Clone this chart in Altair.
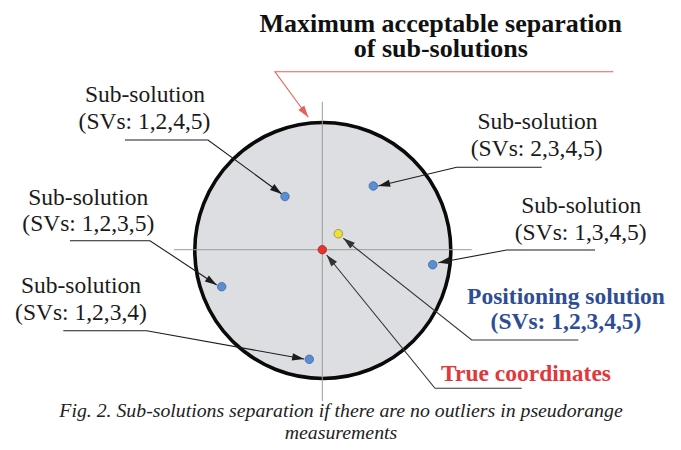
import math
import altair as alt
import pandas as pd

# ---------------- data (diagram units, origin = true coordinates, y up) ----------------
sol_names = ["True coordinates", "Positioning solution",
             "SVs 1,2,4,5", "SVs 2,3,4,5", "SVs 1,3,4,5", "SVs 1,2,3,5", "SVs 1,2,3,4"]
sol_kind = ["true", "full", "sub", "sub", "sub", "sub", "sub"]
sol_x = [0.0, 16.0, -37.3, 51.0, 110.4, -100.6, -13.0]
sol_y = [0.0, 16.0, 53.2, 63.7, -15.0, -37.0, -109.6]

limit_center_x = [0.5]
limit_center_y = [-0.8]
limit_radius = [128.0]

cross_x1 = [-148.3, 0.0]
cross_x2 = [149.4, 0.0]
cross_y1 = [0.0, 148.0]
cross_y2 = [0.0, -151.3]

leader_names = ["1245", "2345", "1345", "1235", "1234", "full", "true", "limit"]
leader_kind = ["black", "black", "black", "black", "black", "grey", "grey", "red"]
leader_x = [[-197.3, -114.3, -40.6], [219.4, 134.4, 56.0], [272.7, 184.4, 116.0],
            [-252.3, -172.3, -105.6], [-259.0, -175.6, -18.3], [256.0, 149.4, 21.0],
            [199.4, 112.7, 4.4], [291.0, -47.3, -14.0]]
leader_y = [[109.7, 109.7, 55.7], [82.4, 82.4, 63.7], [-0.3, -0.3, -13.0],
            [9.0, 9.0, -35.3], [-81.0, -81.0, -109.3], [-90.3, -90.3, 11.4],
            [-138.6, -138.6, -5.3], [178.0, 178.0, 132.4]]

label_text = ["Maximum acceptable separation", "of sub-solutions",
              "Sub-solution", "(SVs: 1,2,4,5)",
              "Sub-solution", "(SVs: 2,3,4,5)",
              "Sub-solution", "(SVs: 1,3,4,5)",
              "Sub-solution", "(SVs: 1,2,3,5)",
              "Sub-solution", "(SVs: 1,2,3,4)",
              "Positioning solution", "(SVs: 1,2,3,4,5)",
              "True coordinates",
              "Fig. 2. Sub-solutions separation if there are no outliers in pseudorange",
              "measurements"]
label_style = ["title", "title", "plain", "plain", "plain", "plain", "plain", "plain",
               "plain", "plain", "plain", "plain", "blue", "blue", "red", "caption", "caption"]
label_x = [118.5, 118.5, -177.3, -177.8, 215.2, 214.4, 259.0, 258.4,
           -234.0, -234.0, -241.3, -241.3, 243.7, 243.7, 203.7, 18.7, 18.7]
label_y = [218.0, 192.4, 147.7, 121.2, 120.4, 93.7, 36.4, 9.7,
           44.7, 18.7, -43.6, -70.3, -54.3, -79.6, -131.3, -166.8, -188.8]

# ---------------- tables ----------------
W, H = 665, 434
X_DOM = [-314.3, 350.7]
Y_DOM = [-192.3, 241.7]

sols = pd.DataFrame({"name": sol_names, "kind": sol_kind, "x": sol_x, "y": sol_y})
limit = pd.DataFrame({"x": limit_center_x, "y": limit_center_y, "r": limit_radius})
cross = pd.DataFrame({"x": cross_x1, "x2": cross_x2, "y": cross_y1, "y2": cross_y2})

rows, heads = [], []
for name, kind, xs, ys in zip(leader_names, leader_kind, leader_x, leader_y):
    for i, (xx, yy) in enumerate(zip(xs, ys)):
        rows.append({"leader": name, "kind": kind, "seq": i, "x": xx, "y": yy})
    dx = xs[-1] - xs[-2]
    dy = ys[-1] - ys[-2]
    ang = math.degrees(math.atan2(dx, dy)) % 360
    heads.append({"leader": name, "kind": kind, "x": xs[-1], "y": ys[-1], "angle": ang})
leaders = pd.DataFrame(rows)
arrowheads = pd.DataFrame(heads)
labels = pd.DataFrame({"text": label_text, "style": label_style, "x": label_x, "y": label_y})


def X(field="x"):
    return alt.X(f"{field}:Q", scale=alt.Scale(domain=X_DOM, nice=False, zero=False), axis=None)


def Y(field="y"):
    return alt.Y(f"{field}:Q", scale=alt.Scale(domain=Y_DOM, nice=False, zero=False), axis=None)


kind_color = alt.Color("kind:N", scale=alt.Scale(domain=["black", "grey", "red"],
                                                 range=["#1c1c1c", "#333333", "#e4605a"]), legend=None)

circle = alt.Chart(limit).mark_point(
    shape="circle", fill="#dcdee1", fillOpacity=1, stroke="#0a0a0a",
    strokeWidth=3.6, opacity=1, size=(2 * limit_radius[0]) ** 2
).encode(x=X(), y=Y())

cross_lines = alt.Chart(cross).mark_rule(color="#9a9a9a", strokeWidth=1).encode(
    x=X(), x2="x2:Q", y=Y(), y2="y2:Q")

leader_lines = alt.Chart(leaders).mark_line(strokeWidth=1.1).encode(
    x=X(), y=Y(), detail="leader:N", order="seq:Q", color=kind_color)

heads_layer = alt.Chart(arrowheads).mark_point(
    shape="M0,0L-0.62,2L0.62,2Z", filled=True, opacity=1, size=140, strokeWidth=0
).encode(x=X(), y=Y(), angle=alt.Angle("angle:Q", scale=None), color=kind_color)

dots = alt.Chart(sols).mark_point(
    shape="circle", filled=True, opacity=1, size=72, strokeWidth=0.8
).encode(
    x=X(), y=Y(),
    fill=alt.Fill("kind:N", scale=alt.Scale(domain=["true", "full", "sub"],
                                            range=["#e5332e", "#ece23a", "#5b8ed0"]), legend=None),
    stroke=alt.Stroke("kind:N", scale=alt.Scale(domain=["true", "full", "sub"],
                                                range=["#a82420", "#8e8a2e", "#3c68a6"]), legend=None),
)


def text_layer(style, **kw):
    return alt.Chart(labels).transform_filter(alt.datum.style == style).mark_text(
        align="center", baseline="alphabetic", **kw
    ).encode(x=X(), y=Y(), text="text:N")


t_title = text_layer("title", font="Liberation Serif", fontSize=26, fontWeight="bold", color="#111111")
t_plain = text_layer("plain", font="Liberation Serif", fontSize=23.5, color="#1a1a1a")
t_blue = text_layer("blue", font="Liberation Serif", fontSize=23.5, fontWeight="bold", color="#2d4e95")
t_red = text_layer("red", font="Liberation Serif", fontSize=23.5, fontWeight="bold", color="#e1383a")
t_cap = text_layer("caption", font="Liberation Serif", fontSize=19.8, fontStyle="italic", color="#222222")

chart = alt.layer(
    circle, cross_lines, leader_lines, heads_layer, dots,
    t_title, t_plain, t_blue, t_red, t_cap
).properties(width=W, height=H, padding=0, autosize="none").configure_view(stroke=None)

chart.save("out.html", embed_options={"renderer": "svg", "actions": False})
